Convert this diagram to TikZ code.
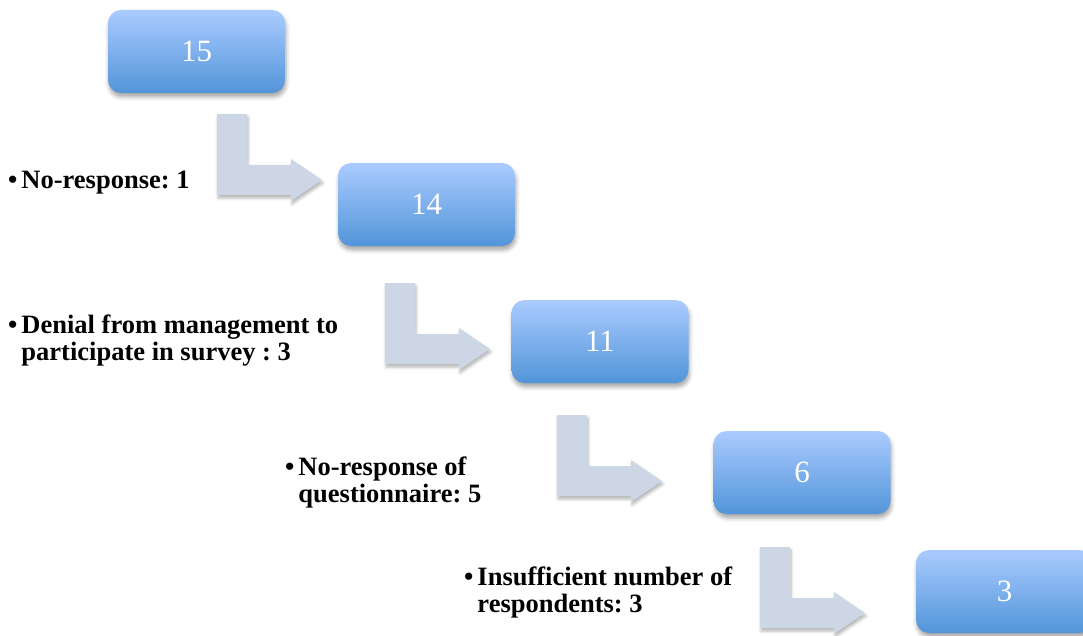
\documentclass[tikz,border=0pt]{standalone}
\usepackage{fontspec}
\setmainfont{Liberation Serif}
\usetikzlibrary{shadows.blur}
\frenchspacing
\definecolor{boxtop}{RGB}{170,203,255}
\definecolor{boxbottom}{RGB}{82,149,217}
\definecolor{arrowgrey}{RGB}{205,214,228}
\tikzset{
  countbox/.style={rounded corners=13pt, top color=boxtop, bottom color=boxbottom,
    minimum width=177pt, minimum height=83pt, inner sep=0pt, text=white,
    font=\fontsize{31}{31}\selectfont,
    blur shadow={shadow xshift=1pt, shadow yshift=-4pt, shadow blur radius=4pt, shadow opacity=35}},
  reason/.style={anchor=base west, inner sep=0pt, font=\fontsize{26.5}{27}\selectfont\bfseries},
  bentarrow/.pic={
    \fill[arrowgrey, blur shadow={shadow xshift=1pt, shadow yshift=-3pt, shadow blur radius=3pt, shadow opacity=30}]
      (0,0) -- (30,0) -- (30,51) -- (74,51) -- (74,45) -- (105,66)
      -- (74,87) -- (74,81) -- (0,81) -- cycle;
  }
}
\begin{document}
\begin{tikzpicture}[x=1pt,y=-1pt]
	%frame
	\useasboundingbox (0,0) rectangle (1083,636);
	\clip (0,0) rectangle (1083,636);

	%bent arrows
	\pic at (217,114) {bentarrow}; %15 to 14
	\pic at (385,283) {bentarrow}; %14 to 11
	\pic at (557,415) {bentarrow}; %11 to 6
	\pic at (760,547) {bentarrow}; %6 to 3

	%counts
	\node[countbox] (n15) at (196.5,51.5) {15};
	\node[countbox] (n14) at (426.5,204.5) {14};
	\node[countbox] (n11) at (600,341.5) {11};
	\node[countbox] (n6) at (802,472.5) {6};
	\node[countbox] (n3) at (1004.5,591.5) {3}; %cut by the right edge

	%reasons
	\node[reason] (r1) at (8,189) {\begin{tabular}[t]{@{}l@{\hspace{4pt}}l@{}}\textbullet & No-response: 1\end{tabular}};
	\node[reason] (r2) at (8,333) {\begin{tabular}[t]{@{}l@{\hspace{4pt}}l@{}}\textbullet & Denial from management to\\ & participate in survey : 3\end{tabular}};
	\node[reason] (r3) at (285,475) {\begin{tabular}[t]{@{}l@{\hspace{4pt}}l@{}}\textbullet & No-response of\\ & questionnaire: 5\end{tabular}};
	\node[reason] (r4) at (464,585) {\begin{tabular}[t]{@{}l@{\hspace{4pt}}l@{}}\textbullet & Insufficient number of\\ & respondents: 3\end{tabular}};
\end{tikzpicture}
\end{document}
